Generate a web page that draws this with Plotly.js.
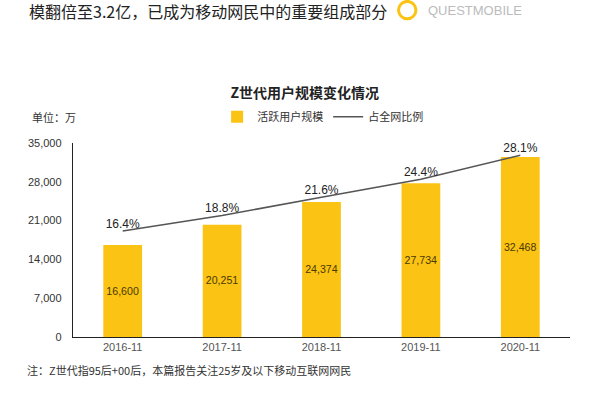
<!DOCTYPE html>
<html><head><meta charset="utf-8">
<script src="https://cdn.plot.ly/plotly-3.0.1.min.js"></script>
<style>html,body{margin:0;padding:0;background:#fff}#c{width:600px;height:393px}</style>
</head><body><div id="c"></div>
<script>
const categories = ['2016-11','2017-11','2018-11','2019-11','2020-11'];
const activeUsers = [16600, 20251, 24374, 27734, 32468];
const sharePct = [16.4, 18.8, 21.6, 24.4, 28.1];
const yTicks = [0, 7000, 14000, 21000, 28000, 35000];

const F = 'Liberation Sans, Arial, Noto Sans CJK SC, sans-serif';
const CJK = 'Noto Sans CJK SC, sans-serif';

const traces = [
  {
    type: 'bar', name: '活跃用户规模', x: categories, y: activeUsers,
    marker: {color: '#FBC313', line: {width: 0}},
    text: activeUsers.map(v => v.toLocaleString('en-US')),
    textposition: 'inside', insidetextanchor: 'middle', textangle: 0,
    textfont: {family: F, size: 12, color: '#4a3a00'},
    hoverinfo: 'skip'
  },
  {
    type: 'scatter', mode: 'lines+text', name: '占全网比例', x: categories, y: sharePct,
    yaxis: 'y2', line: {color: '#555555', width: 1.6},
    text: sharePct.map(v => v.toFixed(1) + '%'),
    textposition: 'top center',
    textfont: {family: F, size: 12, color: '#222'},
    hoverinfo: 'skip'
  }
];

const layout = {
  width: 600, height: 393,
  margin: {l: 73, r: 30, t: 143, b: 56},
  paper_bgcolor: '#fff', plot_bgcolor: '#fff',
  bargap: 0.61,
  showlegend: true,
  legend: {orientation: 'h', x: 0.29, y: 1.135, xanchor: 'left', yanchor: 'middle',
           font: {family: CJK, size: 11, color: '#333'}, itemwidth: 30, tracegroupgap: 0},
  title: {text: 'Z世代用户规模变化情况', x: 0.508, xanchor: 'center', y: 0.762, yanchor: 'middle',
          font: {family: CJK, size: 14, color: '#222', weight: 'bold'}},
  xaxis: {type: 'category', showline: true, linecolor: '#222', linewidth: 1.2, ticks: '',
          tickfont: {family: F, size: 11, color: '#555'}, showgrid: false, zeroline: false},
  yaxis: {range: [0, 35000], tickvals: yTicks, ticktext: yTicks.map(v => v.toLocaleString('en-US')),
          showline: true, linecolor: '#222', linewidth: 1.2, ticks: '', showgrid: false, zeroline: false,
          tickfont: {family: F, size: 11, color: '#333'}, ticklabelstandoff: 8},
  yaxis2: {overlaying: 'y', side: 'right', range: [0, 30], visible: false, showgrid: false},
  annotations: [
    {xref: 'paper', yref: 'paper', x: -0.0926, y: 1.68, xanchor: 'left', yanchor: 'middle', showarrow: false,
     text: '模翻倍至3.2亿，已成为移动网民中的重要组成部分', font: {family: CJK, size: 16, color: '#222'}},
    {xref: 'paper', yref: 'paper', x: -0.0865, y: 1.134, xanchor: 'left', yanchor: 'middle', showarrow: false,
     text: '单位：万', font: {family: CJK, size: 11, color: '#333'}},
    {xref: 'paper', yref: 'paper', x: -0.0966, y: -0.17, xanchor: 'left', yanchor: 'middle', showarrow: false,
     text: '注：Z世代指95后+00后，本篇报告关注25岁及以下移动互联网网民', font: {family: CJK, size: 11, color: '#333'}},
    {xref: 'paper', yref: 'paper', x: 0.71, y: 1.685, xanchor: 'left', yanchor: 'middle', showarrow: false,
     text: 'QUESTMOBILE', font: {family: F, size: 13, color: '#bbb'}}
  ],
  shapes: [
    {type: 'circle', xref: 'paper', yref: 'paper', x0: 0.655, x1: 0.69, y0: 1.64, y1: 1.73,
     line: {color: '#FBC313', width: 3}, fillcolor: 'rgba(0,0,0,0)'}
  ]
};

Plotly.newPlot('c', traces, layout, {staticPlot: true, displayModeBar: false});
</script></body></html>
